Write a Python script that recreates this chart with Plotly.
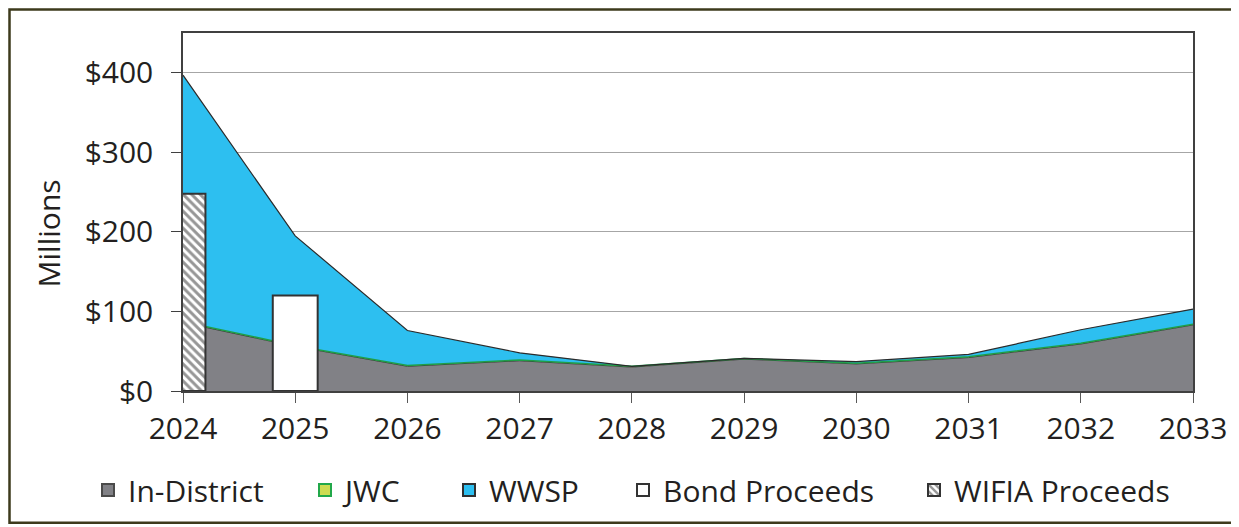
import plotly.graph_objects as go

years = [2024, 2025, 2026, 2027, 2028, 2029, 2030, 2031, 2032, 2033]
in_district = [86, 56, 31, 38, 30, 40, 34, 42, 59, 83]
jwc = [1, 1, 1, 1, 1, 1, 1, 1, 1, 1]
wwsp = [310, 138, 44, 9, 0, 0, 2, 3, 17, 19]

bond_x = [2025]
bond_vals = [120]
wifia_x = [2024]
wifia_vals = [248]

tick_years = years
y_ticks = [0, 100, 200, 300, 400]
y_labels = ["$0", "$100", "$200", "$300", "$400"]

FONT = "Open Sans"
TXT = "#231f20"

# page body has an 8px margin; work in page pixels and shift
OFF = 8
W, H = 1239 - OFF, 527 - OFF
L, R, T, B = 183 - OFF, 1239 - 1193, 33 - OFF, 527 - 392
PW, PH = W - L - R, H - T - B


def px_x(p):
    return (p - OFF - L) / PW


def px_y(p):
    return (H - B - (p - OFF)) / PH


fig = go.Figure()

fig.add_trace(go.Scatter(
    x=years, y=in_district, name="In-District", stackgroup="s",
    mode="lines", line=dict(color="#3a3a3a", width=1),
    fillcolor="#818186", showlegend=False))
fig.add_trace(go.Scatter(
    x=years, y=jwc, name="JWC", stackgroup="s",
    mode="lines", line=dict(color="#1f9e48", width=1.5),
    fillcolor="#cddc52", showlegend=False))
fig.add_trace(go.Scatter(
    x=years, y=wwsp, name="WWSP", stackgroup="s",
    mode="lines", line=dict(color="#2b2b2b", width=1.2),
    fillcolor="#2dbff0", showlegend=False))

# Legend entries (square icons)
leg_specs = [
    ("In-District", "#818186", "#4a4a4a", "legend"),
    ("JWC", "#cddc52", "#22a84a", "legend2"),
    ("WWSP", "#2dbff0", "#303030", "legend3"),
]
for name, fc, lc, lg in leg_specs:
    fig.add_trace(go.Bar(x=[None], y=[None], name=name, xaxis="x2",
                         marker=dict(color=fc, line=dict(color=lc, width=2)),
                         legend=lg, showlegend=True))

fig.add_trace(go.Bar(
    x=bond_x, y=bond_vals, name="Bond Proceeds", xaxis="x2", width=0.4,
    marker=dict(color="white", line=dict(color="#333333", width=2)),
    legend="legend4"))
fig.add_trace(go.Bar(
    x=wifia_x, y=wifia_vals, name="WIFIA Proceeds", xaxis="x2", width=0.4,
    marker=dict(color="white", line=dict(color="#333333", width=2),
                pattern=dict(shape="\\", fgcolor="#2e2e2e", bgcolor="white",
                             size=6, solidity=0.5)),
    legend="legend5"))

text_starts = [128, 345, 489, 663, 954]
leg_names = ["legend", "legend2", "legend3", "legend4", "legend5"]
legend_layout = {}
for lg, ts in zip(leg_names, text_starts):
    legend_layout[lg] = dict(
        x=px_x(ts - 40), y=px_y(490), xanchor="left", yanchor="middle",
        orientation="h", bgcolor="rgba(0,0,0,0)", borderwidth=0,
        font=dict(family=FONT, size=30, color=TXT),
        itemclick=False, itemdoubleclick=False)

axis_common = dict(showline=True, linecolor="#404040", linewidth=1.5,
                   mirror=True)

fig.update_layout(
    width=W, height=H,
    margin=dict(l=L, r=R, t=T, b=B),
    paper_bgcolor="white", plot_bgcolor="white",
    barmode="overlay",
    font=dict(family=FONT, size=30, color=TXT),
    xaxis=dict(range=[2024, 2033], tickvals=tick_years,
               ticktext=[str(y) for y in tick_years],
               ticks="outside", ticklen=10, tickcolor="#595959",
               showgrid=False, zeroline=False,
               tickfont=dict(family=FONT, size=30, color=TXT),
               **axis_common),
    xaxis2=dict(range=[2024, 2033], overlaying="x", visible=False),
    yaxis=dict(range=[0, 450], tickvals=y_ticks, ticktext=y_labels,
               ticks="outside", ticklen=10, tickcolor="#404040",
               showgrid=True, gridcolor="#a6a6a6", gridwidth=1,
               zeroline=False, ticklabelstandoff=12,
               tickfont=dict(family=FONT, size=30, color=TXT),
               **axis_common),
    **legend_layout,
    annotations=[dict(text="Millions", textangle=-90, x=px_x(48), y=px_y(234),
                      xref="paper", yref="paper", showarrow=False,
                      xanchor="center", yanchor="middle",
                      font=dict(family=FONT, size=30, color=TXT))],
    shapes=[dict(type="rect", xref="paper", yref="paper",
                 x0=px_x(OFF + 1.5), x1=px_x(1237.5), y0=px_y(524),
                 y1=px_y(OFF + 1.5),
                 line=dict(color="#3d3a1c", width=2.5), layer="below")],
)

fig.write_html("out.html")
